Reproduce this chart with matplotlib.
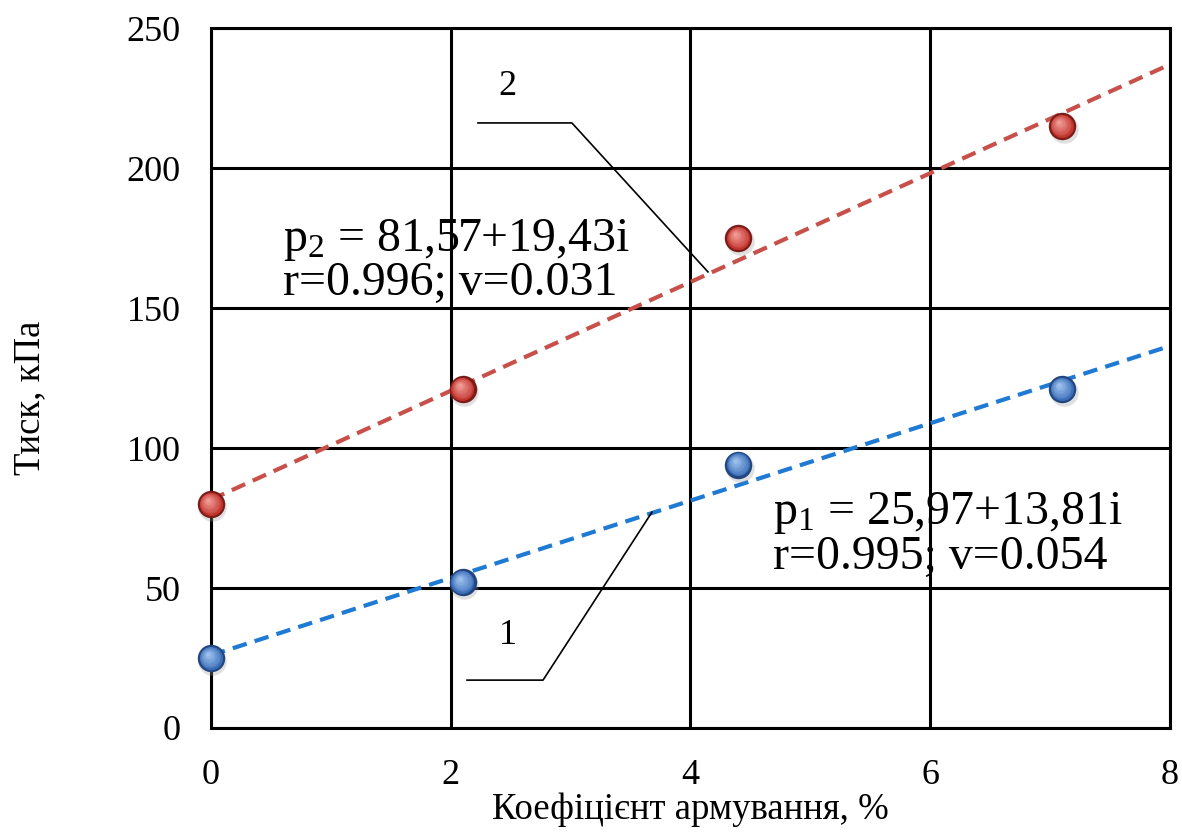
import matplotlib
matplotlib.use("Agg")
import matplotlib.pyplot as plt
import numpy as np
from matplotlib.transforms import ScaledTranslation

# Reinforcement ratio, % and measured pressure, kPa
reinforcement = [0, 2.1, 4.4, 7.1]
pressure_1 = [25, 52, 94, 121]
pressure_2 = [80, 121, 175, 215]

# Regression coefficients (intercept, slope)
fit_1 = (25.97, 13.81)
fit_2 = (81.57, 19.43)

x_ticks = [0, 2, 4, 6, 8]
y_ticks = [0, 50, 100, 150, 200, 250]

plt.rcParams["font.family"] = ["Liberation Serif", "DejaVu Serif"]
plt.rcParams["mathtext.fontset"] = "custom"
plt.rcParams["mathtext.rm"] = "Liberation Serif"
plt.rcParams["mathtext.it"] = "Liberation Serif:italic"

fig = plt.figure(figsize=(11.82, 8.34), dpi=100)
ax = fig.add_axes([0.1785, 0.1271, 0.8113, 0.8393])
ax.set_xlim(0, 8)
ax.set_ylim(0, 250)
ax.set_xticks(x_ticks)
ax.set_yticks(y_ticks)
ax.tick_params(length=0, labelsize=26, pad=22)
ax.grid(True, color="black", linewidth=2.2)
ax.set_axisbelow(True)
for sp in ax.spines.values():
    sp.set_linewidth(2.2)
    sp.set_color("black")

ax.text(0.4995, -0.117, "Коефіцієнт армування, %", fontsize=26.5,
        ha="center", va="center", transform=ax.transAxes)
ax.text(-0.189, 0.471, "Тиск, кПа", fontsize=26.5, rotation=90,
        ha="center", va="center", transform=ax.transAxes)

# Regression lines
xl = np.array([0, 8])
ax.plot(xl, fit_1[0] + fit_1[1] * xl, linestyle=(0, (3.5, 2)), color="#1F7AD4",
        linewidth=3, zorder=3)
ax.plot(xl, fit_2[0] + fit_2[1] * xl, linestyle=(0, (3.5, 2)), color="#C8504A",
        linewidth=3, zorder=3)


def sphere(xs, ys, dark, mid, light):
    """Shaded ball markers built from stacked discs."""
    sh = ScaledTranslation(0.015, -0.03, fig.dpi_scale_trans)
    ax.scatter(xs, ys, s=420, color="#999999", alpha=0.3, linewidths=0,
               transform=ax.transData + sh, zorder=4, clip_on=False)
    ax.scatter(xs, ys, s=390, color=dark, linewidths=0, zorder=5, clip_on=False)
    steps = 8
    for k in range(1, steps + 1):
        t = k / steps
        c = np.array(matplotlib.colors.to_rgb(mid)) * (1 - t) + \
            np.array(matplotlib.colors.to_rgb(light)) * t
        if k == 1:
            c = matplotlib.colors.to_rgb(mid)
        size = 345 * (1 - 0.85 * t) ** 2
        off = ScaledTranslation(-0.032 * t, 0.038 * t, fig.dpi_scale_trans)
        ax.scatter(xs, ys, s=size, color=c, linewidths=0,
                   transform=ax.transData + off, zorder=5 + k, clip_on=False)


sphere(reinforcement, pressure_1, "#23467F", "#3C6EB8", "#9CC0EC")
sphere(reinforcement, pressure_2, "#7A1C18", "#C2342D", "#F09A94")

# Equations
ax.text(0.6, 174.3, r"p$_\mathrm{2}$ = 81,57+19,43i", fontsize=34.5, va="center", ha="left")
ax.text(0.6, 158.9, "r=0.996; v=0.031", fontsize=34.5, va="center", ha="left")
ax.text(4.69, 76.8, r"p$_\mathrm{1}$ = 25,97+13,81i", fontsize=34.5, va="center", ha="left")
ax.text(4.69, 61.0, "r=0.995; v=0.054", fontsize=34.5, va="center", ha="left")

# Curve labels with leader lines
ax.text(2.477, 229, "2", fontsize=26, ha="center", va="center")
ax.plot([2.227, 3.011, 4.146], [216.1, 216.1, 162.9], color="black", linewidth=1.2,
        zorder=10)
ax.text(2.477, 33, "1", fontsize=26, ha="center", va="center")
ax.plot([2.136, 2.770, 3.679], [17.1, 17.1, 77.1], color="black", linewidth=1.2,
        zorder=10)

fig.savefig("out.png", dpi=100)
